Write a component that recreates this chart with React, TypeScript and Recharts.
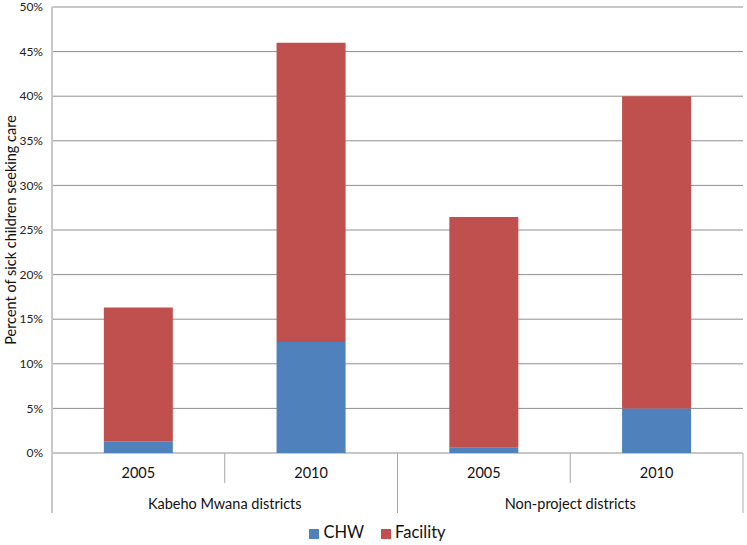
import React from "react";
import { BarChart, Bar, XAxis, YAxis, CartesianGrid, Legend } from "recharts";

const years = ["2005", "2010", "2005", "2010"];
const groups = [
  "Kabeho Mwana districts",
  "Kabeho Mwana districts",
  "Non-project districts",
  "Non-project districts",
];
const chwValues = [1.25, 12.45, 0.6, 5.0];
const facilityValues = [15.05, 33.55, 25.85, 35.0];
const yTicks = [0, 5, 10, 15, 20, 25, 30, 35, 40, 45, 50];

const data = years.map((y, i) => ({
  key: i,
  year: y,
  group: groups[i],
  CHW: chwValues[i],
  Facility: facilityValues[i],
}));

const FONT = "Lato, 'Open Sans', sans-serif";
const SEP = "#A6A6A6";
const EDGE = "#C8C8C8";

const bandOf = (props: any) => {
  if (props.width && props.visibleTicksCount) return props.width / props.visibleTicksCount;
  return 2 * (props.payload?.offset || 0);
};

const YearTick = (props: any) => {
  const { x, y, payload, index, visibleTicksCount } = props;
  const band = bandOf(props);
  const left = x - band / 2;
  const right = x + band / 2;
  const last = index === visibleTicksCount - 1;
  return (
    <g>
      {index === 0 && (
        <line x1={left} x2={left} y1={y} y2={y + 30} stroke={EDGE} strokeWidth={2} />
      )}
      <line x1={right} x2={right} y1={y} y2={y + 30} stroke={last ? EDGE : SEP} strokeWidth={last ? 1.5 : 1} />
      <text x={x} y={y + 25} textAnchor="middle" fontFamily={FONT} fontSize={14.5} fill="#111">
        {payload.value}
      </text>
    </g>
  );
};

const GroupTick = (props: any) => {
  const { x, y, payload, index, visibleTicksCount } = props;
  const band = bandOf(props);
  const left = x - band / 2;
  const right = x + band / 2;
  const last = index === visibleTicksCount - 1;
  return (
    <g>
      <line x1={left} x2={left} y1={y} y2={y + 30} stroke={index === 0 ? EDGE : SEP} strokeWidth={index === 0 ? 2 : 1} />
      {last && <line x1={right} x2={right} y1={y} y2={y + 30} stroke={EDGE} strokeWidth={1.5} />}
      <text x={x} y={y + 26} textAnchor="middle" fontFamily={FONT} fontSize={14.5} fill="#111">
        {payload.value}
      </text>
    </g>
  );
};

const YLabel = (props: any) => {
  const vb = props.viewBox || {};
  const cy = vb.y + vb.height / 2;
  const cx = 15.5;
  return (
    <text
      x={cx}
      y={cy}
      transform={`rotate(-90, ${cx}, ${cy})`}
      textAnchor="middle"
      fontFamily={FONT}
      fontSize={14.5}
      fill="#111"
    >
      Percent of sick children seeking care
    </text>
  );
};

export default function App() {
  return (
    <div style={{ position: "absolute", left: 0, top: 0 }}>
      <BarChart
        width={747}
        height={545}
        data={data}
        margin={{ top: 7, right: 4, bottom: 0, left: 0 }}
        barCategoryGap="30%"
      >
        <CartesianGrid horizontal vertical={false} stroke="#8F8F8F" />
        <XAxis
          dataKey="year"
          xAxisId={0}
          axisLine={false}
          tickLine={false}
          tickSize={0}
          tickMargin={0}
          height={30}
          interval={0}
          tick={<YearTick />}
        />
        <XAxis
          dataKey="group"
          xAxisId="group"
          allowDuplicatedCategory={false}
          axisLine={false}
          tickLine={false}
          tickSize={0}
          tickMargin={0}
          height={30}
          interval={0}
          tick={<GroupTick />}
        />
        <YAxis
          domain={[0, 50]}
          ticks={yTicks}
          interval={0}
          width={52}
          tickFormatter={(v: number) => `${v}%`}
          axisLine={{ stroke: EDGE, strokeWidth: 2 }}
          tickLine={false}
          tickMargin={3}
          tick={{ fontFamily: FONT, fontSize: 12, fill: "#222" }}
          label={<YLabel />}
        />
        <Legend
          verticalAlign="bottom"
          height={23}
          iconType="square"
          iconSize={10}
          wrapperStyle={{ fontFamily: FONT, fontSize: 16.5, paddingTop: 9, paddingLeft: 11 }}
          formatter={(v: string, _e: any, i: number) => (
            <span style={{ color: "#111", paddingRight: i === 0 ? 7 : 0 }}>{v}</span>
          )}
        />
        <Bar dataKey="CHW" stackId="a" fill="#4F81BD" isAnimationActive={false} />
        <Bar dataKey="Facility" stackId="a" fill="#C0504D" isAnimationActive={false} />
      </BarChart>
    </div>
  );
}
